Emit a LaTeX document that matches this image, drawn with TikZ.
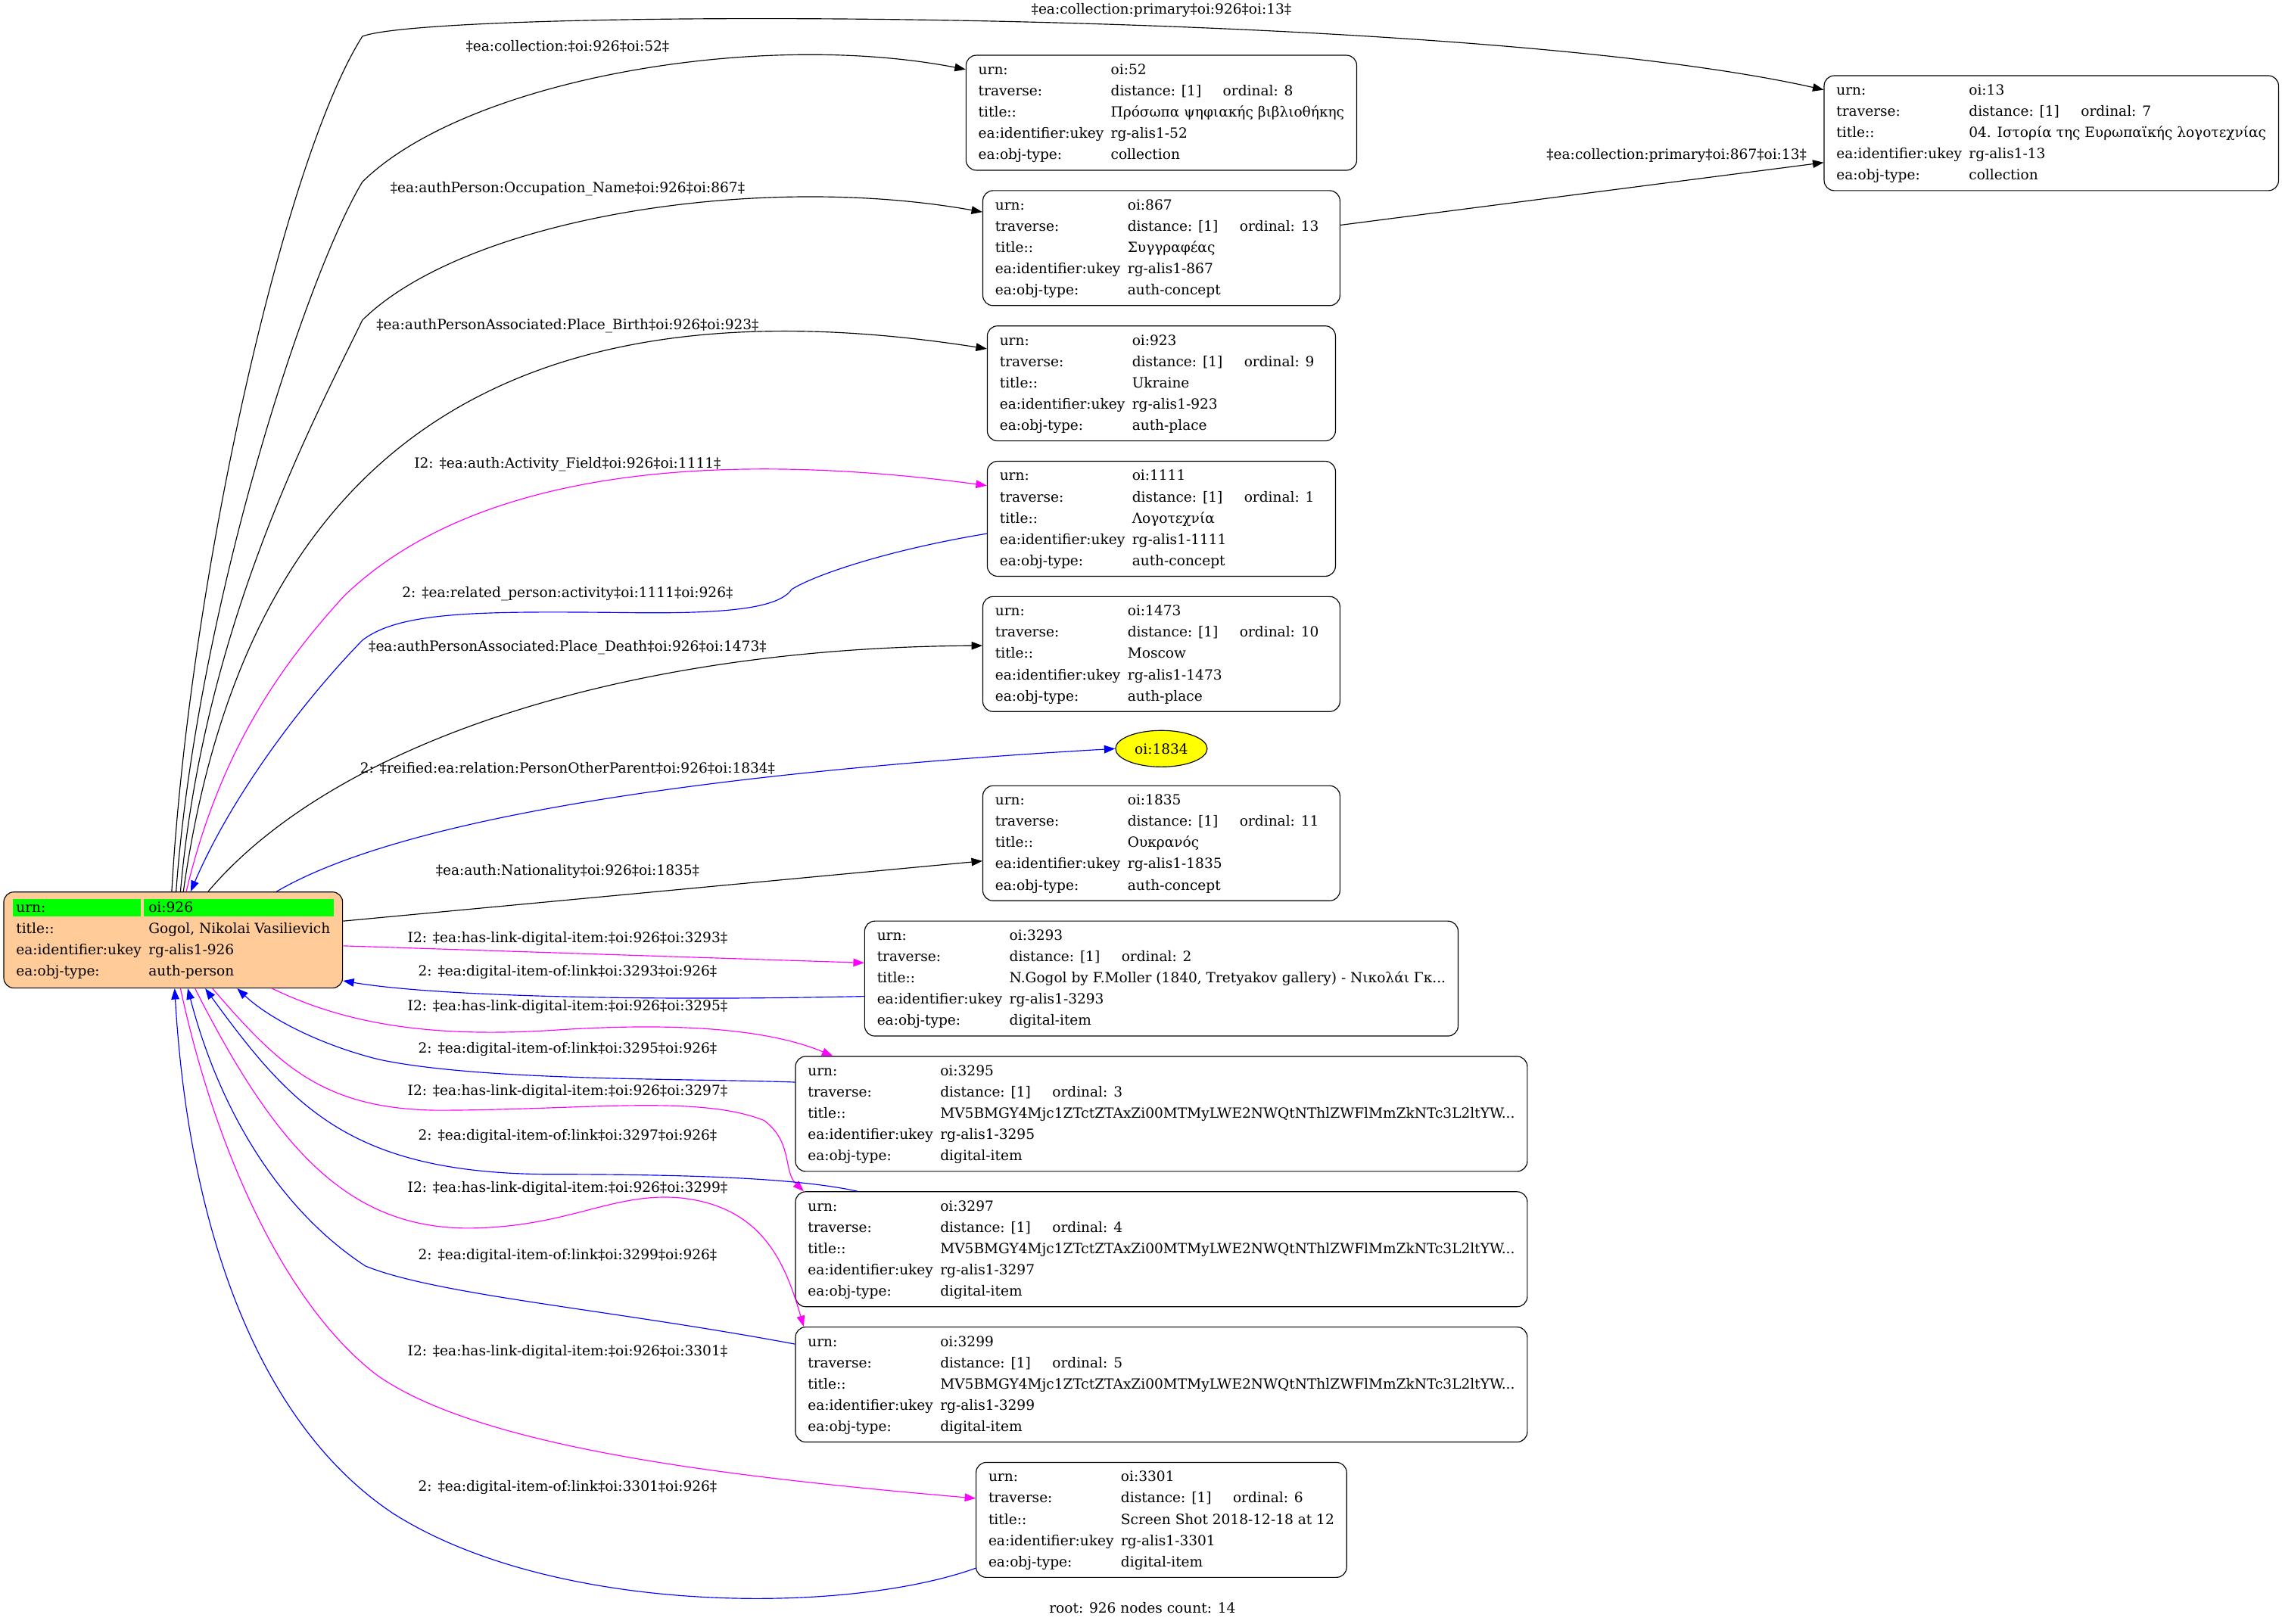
\documentclass[tikz,border=0pt]{standalone}
\usepackage{fontspec}
\setmainfont{DejaVu Serif}
\usepackage{xcolor}
\usepackage{tikz}
\usetikzlibrary{positioning}
\usetikzlibrary{arrows.meta}
\usetikzlibrary{calc}
\usetikzlibrary{math}
\usetikzlibrary{shapes.geometric}

\definecolor{peach}{HTML}{FFCC99}
\definecolor{hilite}{HTML}{00FF00}
\definecolor{linkpink}{HTML}{FF00FF}
\definecolor{backblue}{HTML}{0000FF}
\definecolor{dotyellow}{HTML}{FFFF00}

% rows of one record box
\newcommand{\recrows}[5]{%
  \begin{tabular}{@{}p{91pt}@{}l@{}}
    urn:               & #1\\
    traverse:          & \makebox[77pt][l]{distance: [1]}ordinal: #2\rule{6pt}{0pt}\\
    title::            & #3\\
    ea:identifier:ukey & #4\\
    ea:obj-type:       & #5
  \end{tabular}}

\begin{document}
\begin{tikzpicture}[
  x=1pt, y=-1pt,
  line width=0.6pt,
  font=\fontsize{9.65}{14.6}\selectfont,
  rec/.style={draw, rounded corners=7pt, inner xsep=8.5pt, inner ysep=3pt},
  rootrec/.style={rec, fill=peach, inner ysep=3.8pt,
    path picture={
      \fill[hilite, draw=none, sharp corners]
        ($(path picture bounding box.north west)+(6,5)$) rectangle
        ($(path picture bounding box.north west)+(94,17)$);
      \fill[hilite, draw=none, sharp corners]
        ($(path picture bounding box.north west)+(96,5)$) rectangle
        ($(path picture bounding box.north east)+(-6,17)$);
    }},
  elabel/.style={inner sep=0pt},
  fwd/.style={-{Triangle[length=7.5pt,width=5.5pt]}, black},
  inv/.style={-{Triangle[length=7.5pt,width=5.5pt]}, linkpink},
  rev/.style={-{Triangle[length=7.5pt,width=5.5pt]}, backblue},
  ]

  \tikzmath{
    \colx  = 798;  % centre of the record column
    \lblx  = 390;  % centre of the label column
  }

  \useasboundingbox (0,0) rectangle (1568,1116);

  % Root record
  \node[rootrec] (root) at (119,646) {%
    \begin{tabular}{@{}p{91pt}@{}l@{}}
      urn:               & oi:926\\
      title::            & Gogol, Nikolai Vasilievich\\
      ea:identifier:ukey & rg-alis1-926\\
      ea:obj-type:       & auth-person
    \end{tabular}};

  % Records of distance 1
  \node[rec] (n13) at (1409.5,91.5)
    {\recrows{oi:13}{7}{04. Ιστορία της Ευρωπαϊκής λογοτεχνίας}{rg-alis1-13}{collection}};
  \node[rec] (n52) at (\colx,77.5)
    {\recrows{oi:52}{8}{Πρόσωπα ψηφιακής βιβλιοθήκης}{rg-alis1-52}{collection}};
  \node[rec] (n867) at (\colx,170.5)
    {\recrows{oi:867}{13}{Συγγραφέας}{rg-alis1-867}{auth-concept}};
  \node[rec] (n923) at (\colx,263.5)
    {\recrows{oi:923}{9}{Ukraine}{rg-alis1-923}{auth-place}};
  \node[rec] (n1111) at (\colx,356.5)
    {\recrows{oi:1111}{1}{Λογοτεχνία}{rg-alis1-1111}{auth-concept}};
  \node[rec] (n1473) at (\colx,449.5)
    {\recrows{oi:1473}{10}{Moscow}{rg-alis1-1473}{auth-place}};
  \node[ellipse, draw, fill=dotyellow, minimum width=63, minimum height=25, inner sep=0pt]
    (n1834) at (\colx,514.5) {oi:1834};
  \node[rec] (n1835) at (\colx,579.5)
    {\recrows{oi:1835}{11}{Ουκρανός}{rg-alis1-1835}{auth-concept}};
  \node[rec] (n3293) at (\colx,672.5)
    {\recrows{oi:3293}{2}{N.Gogol by F.Moller (1840, Tretyakov gallery) - Νικολάι Γκ...}{rg-alis1-3293}{digital-item}};
  \node[rec] (n3295) at (\colx,765.5)
    {\recrows{oi:3295}{3}{MV5BMGY4Mjc1ZTctZTAxZi00MTMyLWE2NWQtNThlZWFlMmZkNTc3L2ltYW...}{rg-alis1-3295}{digital-item}};
  \node[rec] (n3297) at (\colx,858.5)
    {\recrows{oi:3297}{4}{MV5BMGY4Mjc1ZTctZTAxZi00MTMyLWE2NWQtNThlZWFlMmZkNTc3L2ltYW...}{rg-alis1-3297}{digital-item}};
  \node[rec] (n3299) at (\colx,951.5)
    {\recrows{oi:3299}{5}{MV5BMGY4Mjc1ZTctZTAxZi00MTMyLWE2NWQtNThlZWFlMmZkNTc3L2ltYW...}{rg-alis1-3299}{digital-item}};
  \node[rec] (n3301) at (\colx,1044.5)
    {\recrows{oi:3301}{6}{Screen Shot 2018-12-18 at 12}{rg-alis1-3301}{digital-item}};

  % Edge labels
  \node[elabel] (l13)    at (\colx,7)   {‡ea:collection:primary‡oi:926‡oi:13‡};
  \node[elabel] (l867x)  at (1152,107)  {‡ea:collection:primary‡oi:867‡oi:13‡};
  \node[elabel] (l52)    at (\lblx,32)  {‡ea:collection:‡oi:926‡oi:52‡};
  \node[elabel] (l867)   at (\lblx,130) {‡ea:authPerson:Occupation\_Name‡oi:926‡oi:867‡};
  \node[elabel] (l923)   at (\lblx,224) {‡ea:authPersonAssociated:Place\_Birth‡oi:926‡oi:923‡};
  \node[elabel] (l1111)  at (\lblx,319) {I2: ‡ea:auth:Activity\_Field‡oi:926‡oi:1111‡};
  \node[elabel] (l1111r) at (\lblx,408) {2: ‡ea:related\_person:activity‡oi:1111‡oi:926‡};
  \node[elabel] (l1473)  at (\lblx,445) {‡ea:authPersonAssociated:Place\_Death‡oi:926‡oi:1473‡};
  \node[elabel] (l1834)  at (\lblx,528) {2: ‡reified:ea:relation:PersonOtherParent‡oi:926‡oi:1834‡};
  \node[elabel] (l1835)  at (\lblx,599) {‡ea:auth:Nationality‡oi:926‡oi:1835‡};
  \node[elabel] (l3293)  at (\lblx,645) {I2: ‡ea:has-link-digital-item:‡oi:926‡oi:3293‡};
  \node[elabel] (l3293r) at (\lblx,668) {2: ‡ea:digital-item-of:link‡oi:3293‡oi:926‡};
  \node[elabel] (l3295)  at (\lblx,692) {I2: ‡ea:has-link-digital-item:‡oi:926‡oi:3295‡};
  \node[elabel] (l3295r) at (\lblx,721) {2: ‡ea:digital-item-of:link‡oi:3295‡oi:926‡};
  \node[elabel] (l3297)  at (\lblx,750) {I2: ‡ea:has-link-digital-item:‡oi:926‡oi:3297‡};
  \node[elabel] (l3297r) at (\lblx,781) {2: ‡ea:digital-item-of:link‡oi:3297‡oi:926‡};
  \node[elabel] (l3299)  at (\lblx,817) {I2: ‡ea:has-link-digital-item:‡oi:926‡oi:3299‡};
  \node[elabel] (l3299r) at (\lblx,863) {2: ‡ea:digital-item-of:link‡oi:3299‡oi:926‡};
  \node[elabel] (l3301)  at (\lblx,929) {I2: ‡ea:has-link-digital-item:‡oi:926‡oi:3301‡};
  \node[elabel] (l3301r) at (\lblx,1022) {2: ‡ea:digital-item-of:link‡oi:3301‡oi:926‡};

  % Caption
  \node[elabel] (cap) at (785,1105) {root: 926 nodes count: 14};

  % Black relations
  \draw[fwd] ($(root.north)+(-1,0)$) .. controls (130,400) and (195,110) .. (249,25)
    .. controls (300,5) and (1000,5) .. ($(n13.north west)+(0,10)$);
  \draw[fwd] ($(root.north)+(2,0)$) .. controls (135,420) and (210,190) .. (249,125)
    .. controls (320,55) and (520,20) .. ($(n52.north west)+(0,10)$);
  \draw[fwd] ($(root.north)+(5,0)$) .. controls (140,430) and (215,290) .. (249,220)
    .. controls (320,150) and (520,118) .. ($(n867.north west)+(0,15)$);
  \draw[fwd] ($(root.north)+(7,0)$) .. controls (170,300) and (360,190) .. ($(n923.north west)+(0,16)$);
  \draw[fwd] ($(root.north)+(24,0)$) .. controls (230,510) and (430,445) .. ($(n1473.north west)+(0,34)$);
  \draw[fwd] ($(root.east)+(0,-13)$) -- ($(n1835.north west)+(0,52)$);
  \draw[fwd] ($(n867.north east)+(0,24)$) -- ($(n13.north west)+(0,60)$);

  % Magenta relations
  \draw[inv] ($(root.north)+(9,0)$) .. controls (150,520) and (190,460) .. (237,409)
    .. controls (330,320) and (500,310) .. ($(n1111.north west)+(0,17)$);
  \draw[inv] ($(root.east)+(0,4)$) -- ($(n3293.north west)+(0,29)$);
  \draw[inv] ($(root.south)+(68,0)$) .. controls (240,705) and (300,713) .. (380,708)
    .. controls (470,702) and (530,708) .. ($(n3295.north west)+(26,0)$);
  \draw[inv] ($(root.south)+(27,0)$) .. controls (190,730) and (220,762) .. (300,763)
    .. controls (400,763) and (480,752) .. (525,770)
    .. controls (545,785) and (538,805) .. ($(n3297.north west)+(6,0)$);
  \draw[inv] ($(root.south)+(15,0)$) .. controls (190,790) and (240,845) .. (324,844)
    .. controls (390,843) and (420,820) .. (465,823)
    .. controls (525,828) and (540,870) .. ($(n3299.north west)+(6,0)$);
  \draw[inv] ($(root.south)+(5,0)$) .. controls (150,800) and (200,900) .. (259,945)
    .. controls (330,995) and (500,1015) .. ($(n3301.north west)+(0,25)$);

  % Blue relations
  \draw[rev] ($(n1111.north west)+(0,50)$) .. controls (610,378) and (560,395) .. (544,405)
    .. controls (535,418) and (500,422) .. (430,421)
    .. controls (330,420) and (275,420) .. (249,440)
    .. controls (210,480) and (160,545) .. ($(root.north)+(12,0)$);
  \draw[rev] ($(root.north)+(71,0)$) .. controls (280,560) and (500,530) .. (n1834.west);
  \draw[rev] ($(n3293.north west)+(0,52)$) .. controls (450,688) and (300,685) .. ($(root.east)+(0,28)$);
  \draw[rev] ($(n3295.north west)+(0,18)$) .. controls (470,741) and (330,743) .. (260,728)
    .. controls (220,718) and (185,700) .. ($(root.south)+(44,0)$);
  \draw[rev] ($(n3297.north west)+(43,0)$) .. controls (550,810) and (480,807) .. (376,807)
    .. controls (240,806) and (200,760) .. ($(root.south)+(22,0)$);
  \draw[rev] ($(n3299.north west)+(0,12)$) .. controls (420,900) and (300,890) .. (251,870)
    .. controls (190,830) and (150,760) .. ($(root.south)+(10,0)$);
  \draw[rev] ($(n3301.north west)+(0,73)$) .. controls (580,1110) and (380,1110) .. (270,1040)
    .. controls (180,980) and (130,850) .. ($(root.south)+(1,0)$);

\end{tikzpicture}
\end{document}
